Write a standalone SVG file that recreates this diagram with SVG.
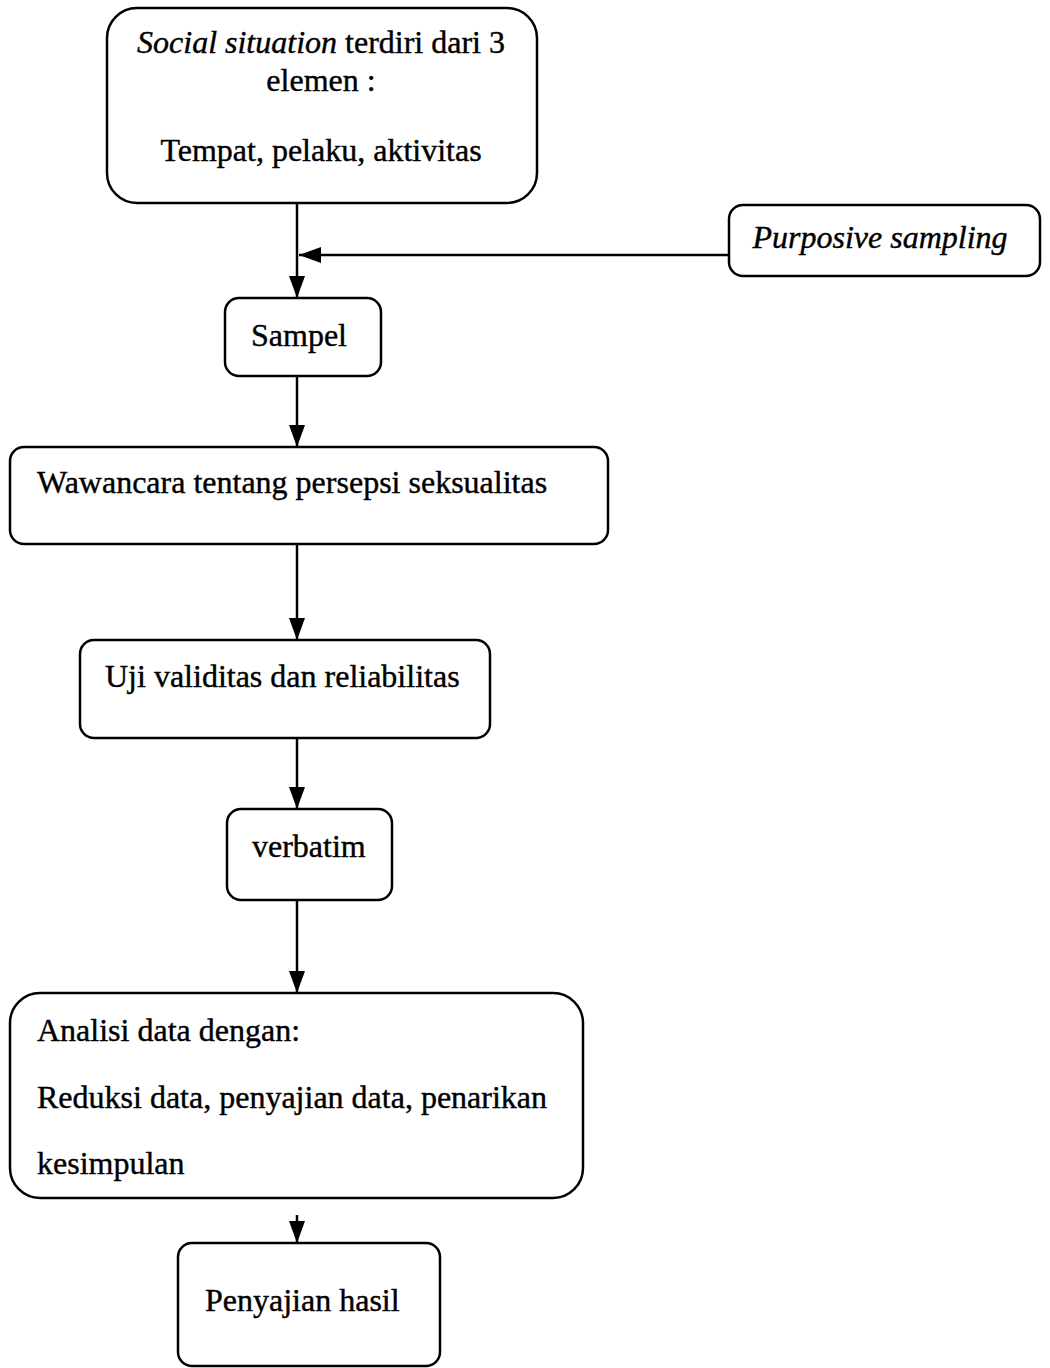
<svg xmlns="http://www.w3.org/2000/svg" width="1050" height="1368" viewBox="0 0 1050 1368">
<style>
.box{fill:#fff;stroke:#000;stroke-width:2.5}
.t{font-family:"Liberation Serif","Times New Roman",serif;font-size:32px;fill:#000;stroke:#000;stroke-width:0.4}
.c{text-anchor:middle}
.i{font-style:italic}
.ln{stroke:#000;stroke-width:2.5;fill:none}
</style>
<defs>
<marker id="ah" markerUnits="userSpaceOnUse" markerWidth="22" markerHeight="16" viewBox="0 0 22 16" refX="22" refY="8" orient="auto">
<path d="M0,0 L22,8 L0,16 Z" fill="#000"/>
</marker>
</defs>
<rect width="1050" height="1368" fill="#fff"/>
<g id="connectors">
<line class="ln" x1="297" y1="203" x2="297" y2="298" marker-end="url(#ah)"/>
<line class="ln" x1="729" y1="255" x2="299" y2="255" marker-end="url(#ah)"/>
<line class="ln" x1="297" y1="376" x2="297" y2="447" marker-end="url(#ah)"/>
<line class="ln" x1="297" y1="544" x2="297" y2="640" marker-end="url(#ah)"/>
<line class="ln" x1="297" y1="738" x2="297" y2="809" marker-end="url(#ah)"/>
<line class="ln" x1="297" y1="900" x2="297" y2="993" marker-end="url(#ah)"/>
<line class="ln" x1="297" y1="1215" x2="297" y2="1243" marker-end="url(#ah)"/>
</g>
<g id="social">
<rect class="box" x="107" y="8" width="430" height="195" rx="30"/>
<text class="t c" x="321" y="53"><tspan class="i">Social situation</tspan> terdiri dari 3</text>
<text class="t c" x="321" y="91">elemen :</text>
<text class="t c" x="321" y="161">Tempat, pelaku, aktivitas</text>
</g>
<g id="purposive">
<rect class="box" x="729" y="205" width="311" height="71" rx="14"/>
<text class="t c i" x="880" y="248">Purposive sampling</text>
</g>
<g id="sampel">
<rect class="box" x="225" y="298" width="156" height="78" rx="14"/>
<text class="t" x="251" y="346">Sampel</text>
</g>
<g id="wawancara">
<rect class="box" x="10" y="447" width="598" height="97" rx="14"/>
<text class="t" x="37" y="493">Wawancara tentang persepsi seksualitas</text>
</g>
<g id="uji">
<rect class="box" x="80" y="640" width="410" height="98" rx="14"/>
<text class="t" x="105" y="687">Uji validitas dan reliabilitas</text>
</g>
<g id="verbatim">
<rect class="box" x="227" y="809" width="165" height="91" rx="14"/>
<text class="t" x="252" y="857">verbatim</text>
</g>
<g id="analisi">
<rect class="box" x="10" y="993" width="573" height="205" rx="30"/>
<text class="t" x="37" y="1041">Analisi data dengan:</text>
<text class="t" x="37" y="1108">Reduksi data, penyajian data, penarikan</text>
<text class="t" x="37" y="1174">kesimpulan</text>
</g>
<g id="penyajian">
<rect class="box" x="178" y="1243" width="262" height="123" rx="14"/>
<text class="t" x="205" y="1311">Penyajian hasil</text>
</g>
</svg>
